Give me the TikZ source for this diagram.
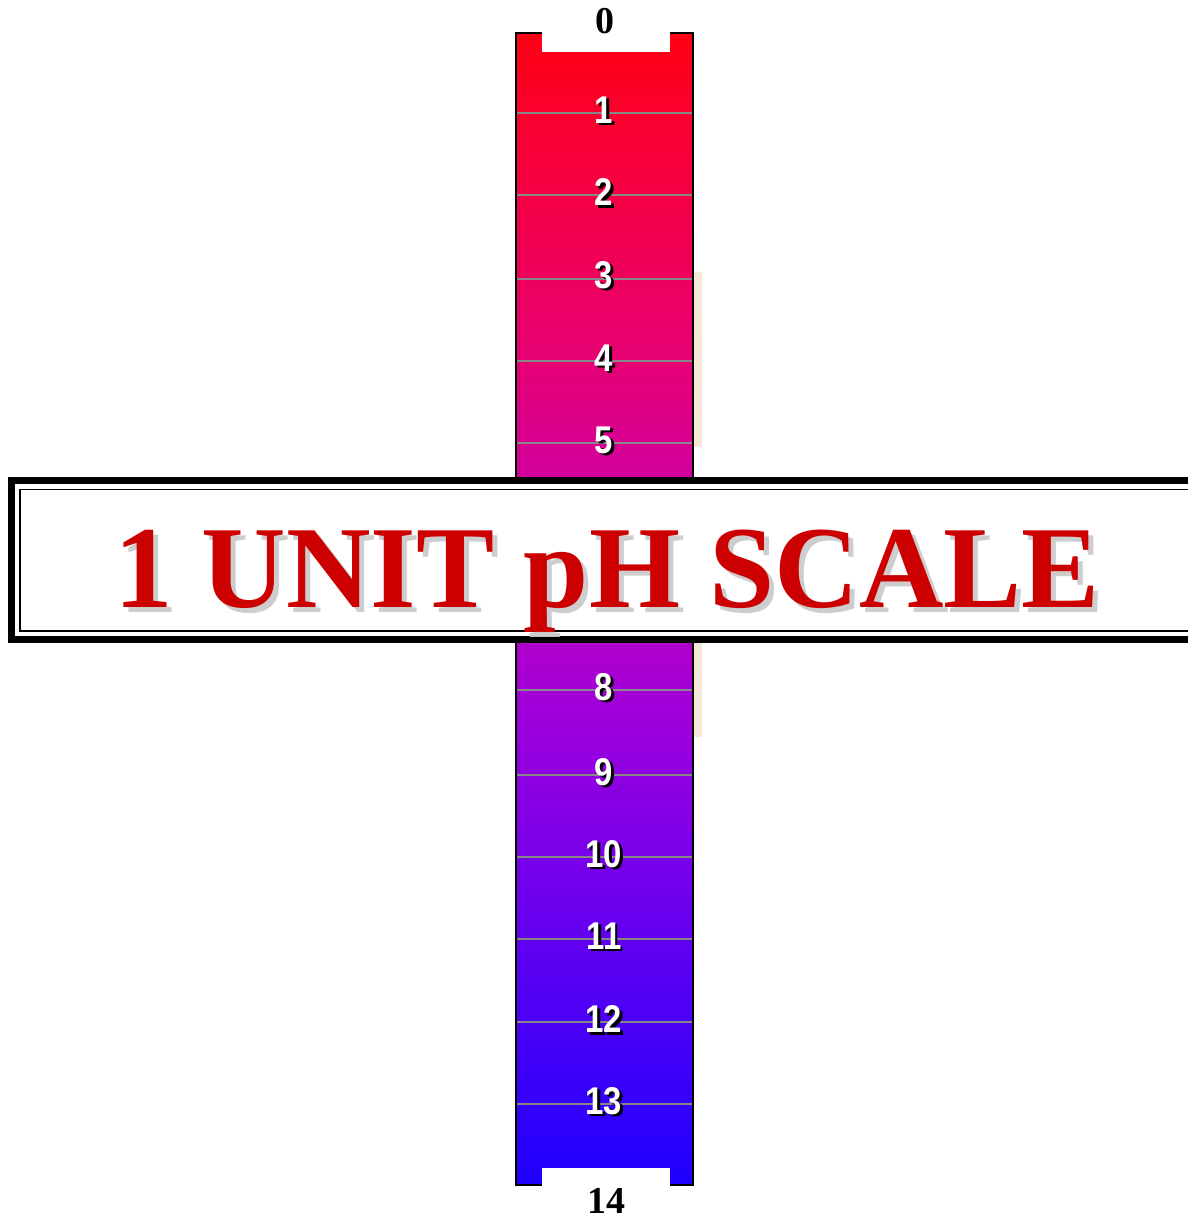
\documentclass[tikz,border=0pt]{standalone}
\usepackage{fontspec}
\setmainfont{Liberation Serif}
\newfontfamily\labfont{Liberation Sans}
\definecolor{phA}{RGB}{30,0,255}
\definecolor{phB}{RGB}{75,0,245}
\definecolor{phC}{RGB}{120,0,235}
\definecolor{phD}{RGB}{165,0,215}
\definecolor{phE}{RGB}{205,0,165}
\definecolor{phF}{RGB}{230,0,115}
\definecolor{phG}{RGB}{245,0,70}
\definecolor{phH}{RGB}{255,0,20}
\definecolor{tickgray}{RGB}{135,135,135}
\definecolor{titlered}{RGB}{204,0,0}
\definecolor{shadowgray}{RGB}{205,205,205}
\definecolor{beige}{RGB}{246,232,214}
\pgfdeclareverticalshading{phscale}{100bp}{color(0bp)=(phA); color(25bp)=(phA); color(32.2bp)=(phB); color(39.1bp)=(phC); color(46.5bp)=(phD); color(54.7bp)=(phE); color(60.8bp)=(phF); color(67.8bp)=(phG); color(75bp)=(phH); color(100bp)=(phH)}
\tikzset{
  numlab/.style={text=white, font=\labfont\bfseries\fontsize{11}{13}\selectfont, inner sep=0pt, xscale=0.85},
  numshadow/.style={text=black, font=\labfont\bfseries\fontsize{11}{13}\selectfont, inner sep=0pt, xscale=0.85},
  endlab/.style={text=black, font=\bfseries\fontsize{10.8}{12}\selectfont, inner sep=0pt, anchor=base},
  bigtxt/.style={font=\bfseries\fontsize{33.3}{36}\selectfont, inner sep=0pt, anchor=base},
  tickline/.style={draw=tickgray, line width=0.6pt},
}
\begin{document}
\begin{tikzpicture}[x=0.01cm,y=-0.01cm]
\useasboundingbox (0,0) rectangle (1188,1217);
\clip (0,0) rectangle (1188,1217);
% beige strips
\fill[beige] (694,272) rectangle (702,447);
\fill[beige] (694,640) rectangle (702,737);
% scale bar
\shade[shading=phscale] (516,33) rectangle (693,1185);
\foreach \yy in {113,195,279,361,443,525,607,690,775,857,939,1022,1104}
  \draw[tickline] (516,\yy) -- (693,\yy);
\draw[black, line width=0.6pt] (516,33) rectangle (693,1185);
\fill[white] (542,31) rectangle (670,52);
\fill[white] (542,1168) rectangle (670,1187);
% labels
\foreach \n/\yy in {1/110,2/192,3/275,4/358,5/440,8/687,9/772,10/854,11/936,12/1019,13/1101}{
  \node[numshadow] (s\n) at (606.5,\yy+2.5) {\n};
  \node[numlab] (l\n) at (604,\yy) {\n};
}
\node[endlab] (top) at (605,33) {0};
\node[endlab] (bottom) at (606,1213) {14};
% banner
\fill[white] (8,477) rectangle (1250,643);
\draw[black, line width=2pt] (11.5,480.5) rectangle (1250,639.5);
\draw[black, line width=0.5pt] (20,489.5) rectangle (1250,631);
\node[bigtxt, text=shadowgray] (titleshadow) at (612,612) {1 UNIT pH SCALE};
\node[bigtxt, text=titlered] (title) at (607,607) {1 UNIT pH SCALE};
\end{tikzpicture}
\end{document}
